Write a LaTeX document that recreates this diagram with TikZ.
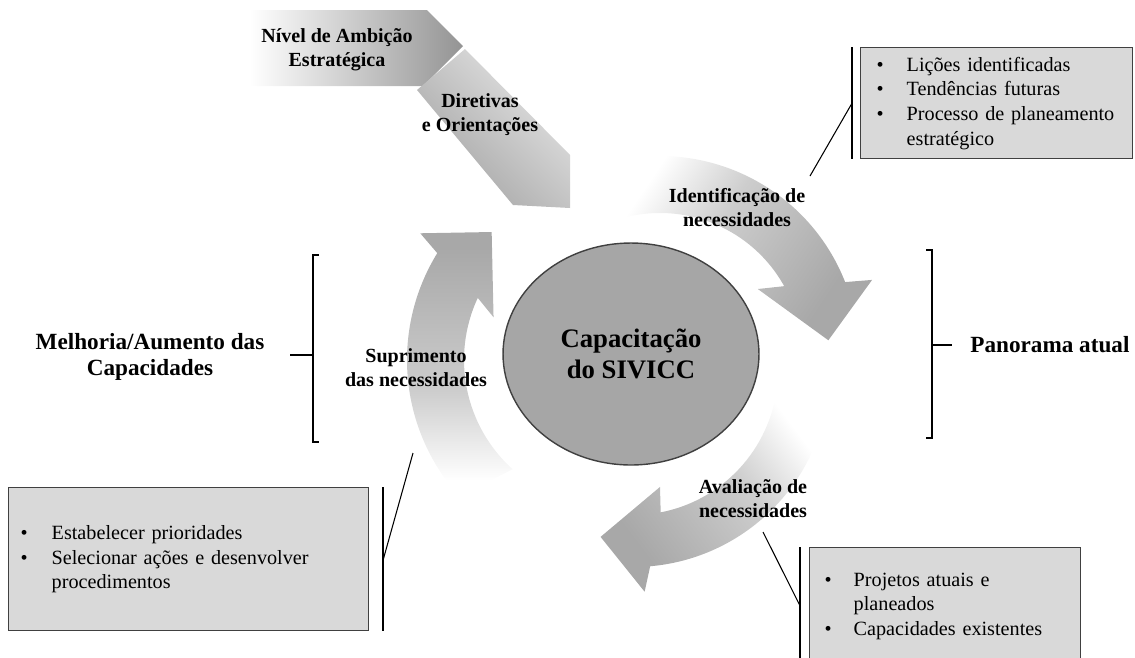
\documentclass[tikz,border=0pt]{standalone}
\usepackage{fontspec}
\setmainfont{Liberation Serif}
\usepackage{xcolor}
\usepackage{tikz}
\usetikzlibrary{shapes.geometric}
\definecolor{hubGray}{HTML}{A6A6A6}
\definecolor{boxGray}{HTML}{D9D9D9}
\definecolor{cycMid}{HTML}{CDCDCD}
\definecolor{cycDark}{HTML}{A8A8A8}
\definecolor{edgeGray}{HTML}{404040}
\pgfdeclareverticalshading{cyclefade}{100bp}{color(0bp)=(white); color(28bp)=(white); color(45bp)=(cycMid); color(72bp)=(cycDark); color(100bp)=(cycDark)}
\tikzset{
  cycArrow/.style={shading=cyclefade, shading angle=#1},
  hub/.style={
    ellipse, draw=edgeGray, line width=0.8pt,
    fill=hubGray, inner sep=0pt,
    minimum width=5.12cm, minimum height=4.44cm,
    align=center, font=\bfseries\fontsize{15.2}{17.6}\selectfont
  },
  lbl/.style={align=center, inner sep=0pt, font=\bfseries\fontsize{11.4}{13.7}\selectfont},
  sideLbl/.style={align=center, inner ysep=0pt, font=\bfseries\fontsize{13.2}{14.6}\selectfont},
  noteBox/.style={
    rectangle, draw=edgeGray, line width=0.8pt,
    fill=boxGray, inner ysep=0pt,
    align=left, anchor=north west,
    font=\fontsize{11.5}{14}\selectfont
  },
  barLine/.style={black, line width=1.1pt},
  leader/.style={black, line width=0.6pt},
  brack/.style={black, line width=1.3pt}
}

\begin{document}
\begin{tikzpicture}[x=0.02cm, y=-0.02cm]
  \useasboundingbox (0,0) rectangle (1135,657);
  \clip (0,0) rectangle (1135,657);
  \coordinate (identCtr) at (660,355);
  \coordinate (avalCtr) at (633,370);
  \coordinate (suprCtr) at (611,360);

  \shade[left color=white, right color=black!42] (250,10) -- (427,10) -- (463,46) -- (423,86) -- (250,86) -- cycle;
  \shade[top color=black!36, bottom color=black!10, shading angle=135] (417,90) -- (465,49) -- (570,155) -- (570,208) -- (513,205) -- cycle;

  \shade[cycArrow=-124] ([shift={(-106:199)}]identCtr) arc[start angle=-106, end angle=-21.5, radius=199]
    -- ([shift={(-19.5:225)}]identCtr) -- ([shift={(-5:169)}]identCtr) -- ([shift={(-34:118)}]identCtr)
    -- ([shift={(-29:142)}]identCtr) arc[start angle=-29, end angle=-106, radius=142] -- cycle;
  \shade[cycArrow=127] ([shift={(6:197)}]avalCtr) arc[start angle=6, end angle=85, radius=197]
    -- ([shift={(87:222)}]avalCtr) -- ([shift={(101:170)}]avalCtr) -- ([shift={(77:120)}]avalCtr)
    -- ([shift={(79:145)}]avalCtr) arc[start angle=79, end angle=3, radius=145] -- cycle;
  \shade[cycArrow=0] ([shift={(-222:204)}]suprCtr) arc[start angle=-222, end angle=-148.4, radius=204]
    -- ([shift={(-146.4:229)}]suprCtr) -- ([shift={(-133:175)}]suprCtr) -- ([shift={(-160:125)}]suprCtr)
    -- ([shift={(-155:147)}]suprCtr) arc[start angle=-155, end angle=-228, radius=147] -- cycle;

  \node[hub] (hub) at (631,354) {Capacitação\\do SIVICC};

  \node[lbl] (ambicao) at (337,50) {Nível de Ambição\\Estratégica};
  \node[lbl] (diretivas) at (480,115) {Diretivas\\e Orientações};
  \node[lbl] (ident) at (737,208) {Identificação de\\necessidades};
  \node[lbl] (aval) at (753,499) {Avaliação de\\necessidades};
  \node[lbl] (supr) at (416,368) {Suprimento\\das necessidades};
  \node[sideLbl, inner xsep=0.5cm] (melhoria) at (150,357) {Melhoria/Aumento das\\Capacidades};
  \node[sideLbl, anchor=west, inner xsep=0.36cm] (pano) at (952,345) {Panorama atual};

  \node[noteBox, inner xsep=0.32cm, text width=4.8cm, minimum width=5.44cm, minimum height=2.22cm] (lessons) at (860,47) {%
    \begin{tabular}{@{}p{0.6cm}@{}l@{}}
      \textbullet & Lições identificadas\\
      \textbullet & Tendências futuras\\
      \textbullet & Processo de planeamento\\
                  & estratégico
    \end{tabular}};
  \node[noteBox, inner xsep=0.24cm, text width=6.72cm, minimum width=7.2cm, minimum height=2.86cm] (prio) at (8,487) {%
    \begin{tabular}{@{}p{0.62cm}@{}l@{}}
      \textbullet & Estabelecer prioridades\\
      \textbullet & Selecionar ações e desenvolver\\
                  & procedimentos
    \end{tabular}};
  \node[noteBox, inner xsep=0.3cm, text width=4.82cm, minimum width=5.42cm, minimum height=2.32cm] (proj) at (809,547) {%
    \begin{tabular}{@{}p{0.58cm}@{}l@{}}
      \textbullet & Projetos atuais e\\
                  & planeados\\
      \textbullet & Capacidades existentes
    \end{tabular}};

  \coordinate (identTag) at (810,176);
  \coordinate (suprTag) at (413,453);
  \coordinate (avalTag) at (763,532);
  \draw[barLine] ([xshift=-0.16cm]lessons.north west) -- ([xshift=-0.16cm]lessons.south west);
  \draw[barLine] ([xshift=0.28cm]prio.north east) -- ([xshift=0.28cm]prio.south east);
  \draw[barLine] ([xshift=-0.18cm]proj.north west) -- ([xshift=-0.18cm]proj.south west);
  \draw[leader] ([xshift=-0.16cm]lessons.west) -- (identTag);
  \draw[leader] ([xshift=0.28cm]prio.east) -- (suprTag);
  \draw[leader] ([xshift=-0.18cm]proj.west) -- (avalTag);

  \coordinate (lBrkTop) at (313,255);
  \coordinate (lBrkBot) at (313,442);
  \coordinate (lBrkMid) at (313,355);
  \coordinate (rBrkTop) at (932,250);
  \coordinate (rBrkBot) at (932,438);
  \coordinate (rBrkMid) at (932,345);
  \draw[brack] (lBrkTop) ++(6,0) -- (lBrkTop) -- (lBrkBot) -- ++(6,0);
  \draw[brack] (lBrkMid) -- (lBrkMid -| melhoria.east);
  \draw[brack] (rBrkTop) ++(-6,0) -- (rBrkTop) -- (rBrkBot) -- ++(-6,0);
  \draw[brack] (rBrkMid) -- (rBrkMid -| pano.west);
\end{tikzpicture}
\end{document}
